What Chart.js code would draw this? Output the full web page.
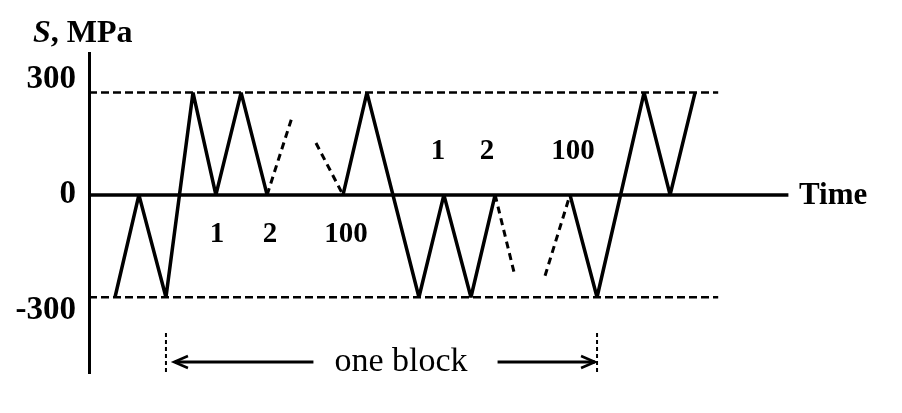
<!DOCTYPE html>
<html><head><meta charset="utf-8">
<script src="https://cdn.jsdelivr.net/npm/chart.js@4.4.0/dist/chart.umd.min.js"></script>
<style>html,body{margin:0;padding:0;background:#fff;overflow:hidden}</style>
</head><body>
<canvas id="c" width="902" height="413"></canvas>
<script>
// ---- data (time in arbitrary units, stress in MPa) ----
const yTicks = [-300, 0, 300];
const solidA_t = [1.0, 1.92, 2.96, 4.0, 4.88, 5.85, 6.85];
const solidA_s = [-300, 0, -300, 300, 0, 300, 0];
const dashA1_t = [6.85, 7.81];
const dashA1_s = [0, 228];
const dashA2_t = [8.73, 9.77];
const dashA2_s = [152, 0];
const solidB_t = [9.77, 10.69, 12.69, 13.65, 14.69, 15.62];
const solidB_s = [0, 300, -300, 0, -300, 0];
const dashB1_t = [15.62, 16.38];
const dashB1_s = [0, -237];
const dashB2_t = [17.54, 18.5];
const dashB2_s = [-237, 0];
const solidC_t = [18.5, 19.54, 21.35, 22.35, 23.31];
const solidC_s = [0, -300, 300, 0, 300];
const zero_t = [0, 26.9];
const zero_s = [0, 0];
const upper_t = [0, 24.2];
const upper_s = [300, 300];
const lower_t = [0, 24.2];
const lower_s = [-300, -300];
const cycleLabels = ['1', '2', '100'];
const lowerLabel_t = [4.92, 6.96, 9.88];
const lowerLabel_s = -117;
const upperLabel_t = [13.42, 15.31, 18.62];
const upperLabel_s = 126;
const blockStart_t = 2.96;
const blockEnd_t = 19.54;
const blockLabel_t = 12.0;
const blockLabel = 'one block';
const yTitle = ['S', ', MPa'];
const xTitle = 'Time';

const pts = (t, s) => t.map((v, i) => ({x: v, y: s[i]}));
const SERIF = '"Liberation Serif", "Times New Roman", serif';

function ds(t, s, opts) {
  return Object.assign({
    data: pts(t, s), borderColor: '#000', borderWidth: 3.5, pointRadius: 0,
    tension: 0, fill: false, borderJoinStyle: 'bevel', borderCapStyle: 'butt'
  }, opts || {});
}

const annot = {
  id: 'annot',
  afterDatasetsDraw(chart) {
    const {ctx, scales: {x, y}, chartArea} = chart;
    ctx.save();
    ctx.fillStyle = '#000';
    ctx.strokeStyle = '#000';
    // cycle labels
    ctx.font = 'bold 29px ' + SERIF;
    ctx.textAlign = 'center';
    ctx.textBaseline = 'middle';
    cycleLabels.forEach((l, i) => {
      ctx.fillText(l, x.getPixelForValue(lowerLabel_t[i]), y.getPixelForValue(lowerLabel_s));
      ctx.fillText(l, x.getPixelForValue(upperLabel_t[i]), y.getPixelForValue(upperLabel_s));
    });
    // y title
    ctx.textAlign = 'left';
    ctx.textBaseline = 'alphabetic';
    ctx.font = 'italic bold 32px ' + SERIF;
    const sx = chartArea.left - 56;
    const sy = chartArea.top - 11;
    ctx.fillText(yTitle[0], sx, sy);
    const w = ctx.measureText(yTitle[0]).width;
    ctx.font = 'bold 32px ' + SERIF;
    ctx.fillText(yTitle[1], sx + w, sy);
    // x title
    ctx.font = 'bold 31px ' + SERIF;
    ctx.textBaseline = 'middle';
    ctx.fillText(xTitle, chartArea.right + 8, y.getPixelForValue(0) + 1);
    // block annotation
    const x1 = x.getPixelForValue(blockStart_t);
    const x2 = x.getPixelForValue(blockEnd_t);
    const yTop = chartArea.bottom - 40;
    const yBot = chartArea.bottom - 1;
    const ya = chartArea.bottom - 11;
    ctx.lineWidth = 2;
    ctx.setLineDash([4, 3]);
    ctx.beginPath();
    ctx.moveTo(x1, yTop); ctx.lineTo(x1, yBot);
    ctx.moveTo(x2, yTop); ctx.lineTo(x2, yBot);
    ctx.stroke();
    ctx.setLineDash([]);
    ctx.lineWidth = 3;
    ctx.font = '34px ' + SERIF;
    ctx.textAlign = 'center';
    const mid = x.getPixelForValue(blockLabel_t);
    const tw = ctx.measureText(blockLabel).width;
    ctx.fillText(blockLabel, mid, ya);
    ctx.beginPath();
    ctx.moveTo(x1 + 10, ya); ctx.lineTo(mid - tw / 2 - 21, ya);
    ctx.moveTo(mid + tw / 2 + 30, ya); ctx.lineTo(x2 - 2, ya);
    ctx.stroke();
    // arrowheads
    ctx.lineWidth = 2.5;
    ctx.beginPath();
    ctx.moveTo(x1 + 22, ya - 6); ctx.lineTo(x1 + 8, ya); ctx.lineTo(x1 + 22, ya + 6);
    ctx.moveTo(x2 - 16, ya - 6); ctx.lineTo(x2 - 2, ya); ctx.lineTo(x2 - 16, ya + 6);
    ctx.stroke();
    ctx.restore();
  }
};

new Chart(document.getElementById('c'), {
  type: 'line',
  data: {
    datasets: [
      ds(zero_t, zero_s, {borderWidth: 3.5}),
      ds(upper_t, upper_s, {borderWidth: 2.5, borderDash: [8, 4]}),
      ds(lower_t, lower_s, {borderWidth: 2.5, borderDash: [8, 4]}),
      ds(solidA_t, solidA_s),
      ds(dashA1_t, dashA1_s, {borderWidth: 3, borderDash: [7, 5]}),
      ds(dashA2_t, dashA2_s, {borderWidth: 3, borderDash: [7, 5]}),
      ds(solidB_t, solidB_s),
      ds(dashB1_t, dashB1_s, {borderWidth: 3, borderDash: [7, 5]}),
      ds(dashB2_t, dashB2_s, {borderWidth: 3, borderDash: [7, 5]}),
      ds(solidC_t, solidC_s)
    ]
  },
  options: {
    responsive: false,
    animation: false,
    events: [],
    layout: {padding: {left: 0, right: 111, top: 53, bottom: 40}},
    plugins: {legend: {display: false}, tooltip: {enabled: false}},
    scales: {
      x: {type: 'linear', min: 0, max: 27, display: false},
      y: {
        type: 'linear', min: -522, max: 416,
        afterBuildTicks(axis) { axis.ticks = yTicks.map(v => ({value: v})); },
        afterFit(scale) { scale.width = 89; },
        grid: {display: false, drawTicks: false},
        border: {display: true, color: '#000', width: 3},
        ticks: {
          color: '#000', padding: 13,
          font: {family: SERIF, size: 33, weight: 'bold', lineHeight: 0.8},
          callback: v => v > 0 ? [String(v), ''] : (v < 0 ? ['', String(v)] : String(v))
        }
      }
    }
  },
  plugins: [annot]
});
</script>
</body></html>
